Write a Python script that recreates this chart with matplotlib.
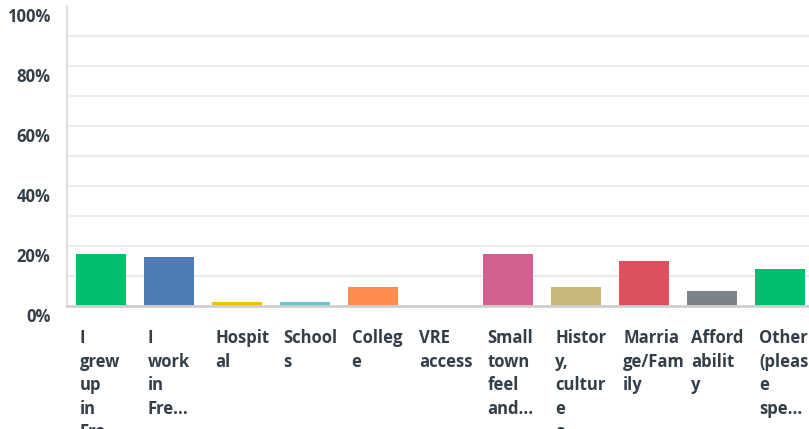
import numpy as np
import matplotlib
matplotlib.use("Agg")
import matplotlib.pyplot as plt
from matplotlib.transforms import ScaledTranslation

# answer labels as shown (wrapped and cut like the survey tool does)
labels = ["I\ngrew\nup\nin\nFre...", "I\nwork\nin\nFre...", "Hospit\nal", "School\ns",
          "Colleg\ne", "VRE\naccess", "Small\ntown\nfeel\nand...", "Histor\ny,\ncultur\ne\na...",
          "Marria\nge/Fam\nily", "Afford\nabilit\ny", "Other\n(pleas\ne\nspe..."]
values = [17.3, 16.3, 1.3, 1.3, 6.3, 0.0, 17.3, 6.3, 15.0, 5.0, 12.3]
colors = ["#00bf6f", "#507cb6", "#f9be00", "#6bc8cd", "#ff8b4f", "#96bf0d",
          "#d25f90", "#c7b879", "#dc505f", "#7b8189", "#00bf6f"]
yticks = [0, 20, 40, 60, 80, 100]

txt = "#333e48"
plt.rcParams['font.family'] = ['Open Sans', 'DejaVu Sans']

fig = plt.figure(figsize=(8.09, 4.29), dpi=100)
W, H = 809, 429
ax = fig.add_axes([67/W, (H-306)/H, 747/W, 300/H])

x = np.arange(len(values))
ax.bar(x, values, width=0.736, color=colors, zorder=3)

ax.set_xlim(-0.5, len(values)-0.5)
ax.set_ylim(0, 100)
for g in range(10, 100, 10):
    ax.axhline(g, color="#ececec", lw=1.5, zorder=1)

for s in ["top", "right"]:
    ax.spines[s].set_visible(False)
ax.spines["left"].set_color("#dedede")
ax.spines["left"].set_linewidth(1.5)
ax.spines["bottom"].set_color("#cfcfcf")
ax.spines["bottom"].set_linewidth(2)
ax.spines["bottom"].set_zorder(4)

ax.set_xticks([])
ax.set_yticks(yticks)
ax.set_yticklabels([f"{v}%" for v in yticks], fontsize=12, fontweight="bold", color=txt)
ax.tick_params(axis="y", length=0, pad=12)
off = ScaledTranslation(0, -9/100, fig.dpi_scale_trans)
for lab in ax.get_yticklabels():
    lab.set_transform(lab.get_transform() + off)

for i, lab in enumerate(labels):
    ax.annotate(lab, xy=(i - 0.31, 0), xycoords=("data", "axes fraction"),
                xytext=(0, -23), textcoords="offset pixels",
                ha="left", va="top", fontsize=12, fontweight="bold",
                color=txt, linespacing=1.4, annotation_clip=False)

fig.savefig("out.png", dpi=100)
